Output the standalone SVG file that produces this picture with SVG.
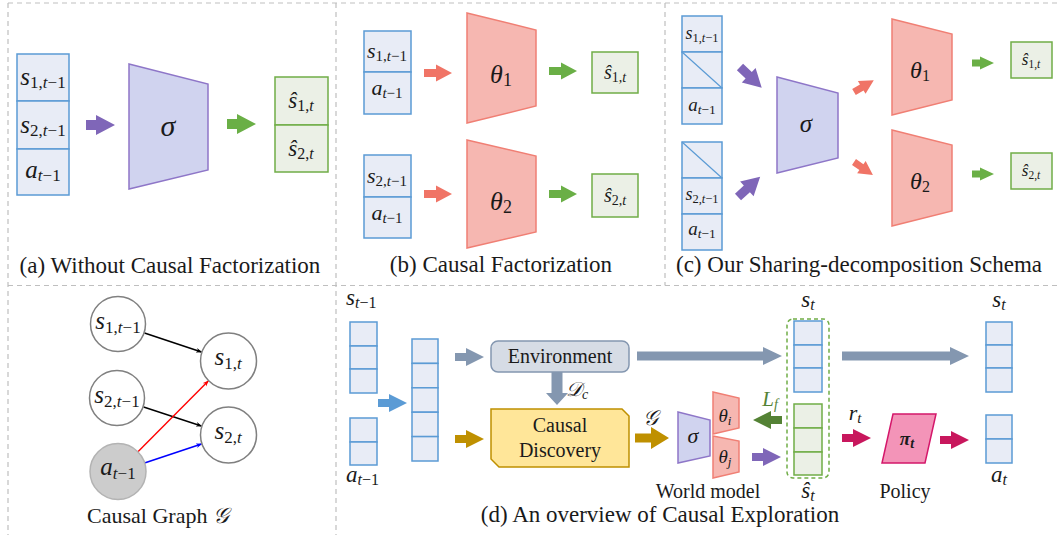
<svg xmlns="http://www.w3.org/2000/svg" xmlns:xlink="http://www.w3.org/1999/xlink" width="1057" height="535" viewBox="0 0 1057 535">
  <style>
    .frame { stroke: #BFBFBF; stroke-width: 1.2; stroke-dasharray: 5 4; fill: none; }
    .bx { fill: #E8ECF6; stroke: #5B9BD5; stroke-width: 1.5; }
    .gx { fill: #EBF0E6; stroke: #70AD47; stroke-width: 1.5; }
    .sig { fill: #D0D3EF; stroke: #8E76C8; stroke-width: 1.5; }
    .th { fill: #F6B7B1; stroke: #F07F74; stroke-width: 1.5; }
    .cap { font-family: "Liberation Serif", serif; font-size: 23px; fill: #1a1a1a; }
    .lbl { font-family: "Liberation Serif", serif; font-size: 20px; fill: #1a1a1a; }
    .m { font-family: "Liberation Serif", serif; font-style: italic; fill: #1a1a1a; }
    .n { font-style: normal; }
    .node { fill: #FFFFFF; stroke: #808080; stroke-width: 1.5; }
    .edge { stroke-width: 1.4; fill: none; }
  </style>
  <defs>
    <path id="ar-a" d="M0,-5H10V-10L29,0L10,10V5H0Z"/>
    <path id="ar-b" d="M0,-4H12V-8.5L28,0L12,8.5V4H0Z"/>
    <path id="ar-c" d="M0,-3.5H8V-6.5L22,0L8,6.5V3.5H0Z"/>
    <path id="ar-cp" d="M0,-4.5H12V-10L30,0L12,10V4.5H0Z"/>
    <path id="ar-cr" d="M0,-3.5H9V-7.5L23,0L9,7.5V3.5H0Z"/>
    <path id="ar-d" d="M0,-4H11V-9L29,0L11,9V4H0Z"/>
    <path id="ar-g" d="M0,-4.5H16V-11L34,0L16,11V4.5H0Z"/>
    <marker id="hk" viewBox="0 0 10 10" refX="9" refY="5" markerWidth="6" markerHeight="6" orient="auto" markerUnits="userSpaceOnUse">
      <path d="M0,1 L10,5 L0,9 L3,5Z" fill="#000000"/>
    </marker>
    <marker id="hr" viewBox="0 0 10 10" refX="9" refY="5" markerWidth="6" markerHeight="6" orient="auto" markerUnits="userSpaceOnUse">
      <path d="M0,1 L10,5 L0,9 L3,5Z" fill="#FF0000"/>
    </marker>
    <marker id="hb" viewBox="0 0 10 10" refX="9" refY="5" markerWidth="6" markerHeight="6" orient="auto" markerUnits="userSpaceOnUse">
      <path d="M0,1 L10,5 L0,9 L3,5Z" fill="#0000FF"/>
    </marker>
  </defs>

  <rect width="1057" height="535" fill="#FFFFFF"/>

  <!-- panel frames -->
  <g id="frames">
    <line class="frame" x1="8" y1="3" x2="1057" y2="3"/>
    <line class="frame" x1="8" y1="285.5" x2="1057" y2="285.5"/>
    <line class="frame" x1="8" y1="3" x2="8" y2="535"/>
    <line class="frame" x1="336" y1="3" x2="336" y2="535"/>
    <line class="frame" x1="665" y1="3" x2="665" y2="285.5"/>
  </g>

  <!-- (a) single network -->
  <g id="a-input">
    <rect class="bx" x="17" y="54" width="52" height="47"/>
    <rect class="bx" x="17" y="101" width="52" height="48"/>
    <rect class="bx" x="17" y="149" width="52" height="46"/>
    <text class="m" x="43" y="85" font-size="25" text-anchor="middle">s<tspan font-size="17" dy="3"><tspan class="n">1,</tspan>t<tspan class="n">−1</tspan></tspan></text>
    <text class="m" x="43" y="133" font-size="25" text-anchor="middle">s<tspan font-size="17" dy="3"><tspan class="n">2,</tspan>t<tspan class="n">−1</tspan></tspan></text>
    <text class="m" x="43" y="178" font-size="25" text-anchor="middle">a<tspan font-size="17" dy="3">t<tspan class="n">−1</tspan></tspan></text>
  </g>
  <g id="a-sigma">
    <polygon class="sig" points="129,64 208,84 208,170 129,189"/>
    <text class="m" x="168" y="136" font-size="30" text-anchor="middle">σ</text>
  </g>
  <g id="a-output">
    <rect class="gx" x="275" y="77" width="53" height="48"/>
    <rect class="gx" x="275" y="125" width="53" height="47"/>
    <text class="m" x="301" y="108" font-size="23" text-anchor="middle">ŝ<tspan font-size="16" dy="3"><tspan class="n">1,</tspan>t</tspan></text>
    <text class="m" x="301" y="156" font-size="23" text-anchor="middle">ŝ<tspan font-size="16" dy="3"><tspan class="n">2,</tspan>t</tspan></text>
  </g>
  <g id="a-arrows">
    <use xlink:href="#ar-a" href="#ar-a" fill="#7F66B8" transform="translate(86,125)"/>
    <use xlink:href="#ar-a" href="#ar-a" fill="#6AAF46" transform="translate(227,124)"/>
  </g>
  <text class="cap" x="170" y="273" text-anchor="middle">(a) Without Causal Factorization</text>

  <!-- (b) factorised networks -->
  <g id="b-input1">
    <rect class="bx" x="364" y="31" width="47" height="41"/>
    <rect class="bx" x="364" y="72" width="47" height="42"/>
    <text class="m" x="387" y="58" font-size="22" text-anchor="middle">s<tspan font-size="15" dy="3"><tspan class="n">1,</tspan>t<tspan class="n">−1</tspan></tspan></text>
    <text class="m" x="387" y="95" font-size="22" text-anchor="middle">a<tspan font-size="15" dy="3">t<tspan class="n">−1</tspan></tspan></text>
  </g>
  <g id="b-theta1">
    <polygon class="th" points="467,13 536,30 536,106 467,123"/>
    <text class="m" x="501" y="83" font-size="26" text-anchor="middle">θ<tspan class="n" font-size="18" dy="3">1</tspan></text>
  </g>
  <g id="b-out1">
    <rect class="gx" x="592" y="52" width="46" height="41"/>
    <text class="m" x="615" y="79" font-size="20" text-anchor="middle">ŝ<tspan font-size="14" dy="3"><tspan class="n">1,</tspan>t</tspan></text>
  </g>
  <g id="b-input2">
    <rect class="bx" x="364" y="155" width="47" height="42"/>
    <rect class="bx" x="364" y="197" width="47" height="41"/>
    <text class="m" x="387" y="183" font-size="22" text-anchor="middle">s<tspan font-size="15" dy="3"><tspan class="n">2,</tspan>t<tspan class="n">−1</tspan></tspan></text>
    <text class="m" x="387" y="220" font-size="22" text-anchor="middle">a<tspan font-size="15" dy="3">t<tspan class="n">−1</tspan></tspan></text>
  </g>
  <g id="b-theta2">
    <polygon class="th" points="467,140 536,156 536,232 467,248"/>
    <text class="m" x="501" y="210" font-size="26" text-anchor="middle">θ<tspan class="n" font-size="18" dy="3">2</tspan></text>
  </g>
  <g id="b-out2">
    <rect class="gx" x="592" y="174" width="46" height="43"/>
    <text class="m" x="615" y="202" font-size="20" text-anchor="middle">ŝ<tspan font-size="14" dy="3"><tspan class="n">2,</tspan>t</tspan></text>
  </g>
  <g id="b-arrows">
    <use xlink:href="#ar-b" href="#ar-b" fill="#F07466" transform="translate(424,73)"/>
    <use xlink:href="#ar-b" href="#ar-b" fill="#6AAF46" transform="translate(549,71)"/>
    <use xlink:href="#ar-b" href="#ar-b" fill="#F07466" transform="translate(424,194)"/>
    <use xlink:href="#ar-b" href="#ar-b" fill="#6AAF46" transform="translate(549,194)"/>
  </g>
  <text class="cap" x="501" y="272" text-anchor="middle">(b) Causal Factorization</text>

  <!-- (c) shared encoder with decomposed heads -->
  <g id="c-input1">
    <rect class="bx" x="682" y="16" width="40" height="36"/>
    <rect class="bx" x="682" y="52" width="40" height="36"/>
    <rect class="bx" x="682" y="88" width="40" height="36"/>
    <line x1="682" y1="52" x2="722" y2="88" stroke="#5B9BD5" stroke-width="1.2"/>
    <text class="m" x="702" y="39" font-size="18" text-anchor="middle">s<tspan font-size="12.5" dy="2.5"><tspan class="n">1,</tspan>t<tspan class="n">−1</tspan></tspan></text>
    <text class="m" x="702" y="111" font-size="19" text-anchor="middle">a<tspan font-size="13.5" dy="2.5">t<tspan class="n">−1</tspan></tspan></text>
  </g>
  <g id="c-input2">
    <rect class="bx" x="682" y="142" width="40" height="36"/>
    <rect class="bx" x="682" y="178" width="40" height="36"/>
    <rect class="bx" x="682" y="214" width="40" height="36"/>
    <line x1="682" y1="142" x2="722" y2="178" stroke="#5B9BD5" stroke-width="1.2"/>
    <text class="m" x="702" y="200" font-size="18" text-anchor="middle">s<tspan font-size="12.5" dy="2.5"><tspan class="n">2,</tspan>t<tspan class="n">−1</tspan></tspan></text>
    <text class="m" x="702" y="235" font-size="19" text-anchor="middle">a<tspan font-size="13.5" dy="2.5">t<tspan class="n">−1</tspan></tspan></text>
  </g>
  <g id="c-sigma">
    <polygon class="sig" points="777,77 838,93 838,158 777,173"/>
    <text class="m" x="806" y="132" font-size="25" text-anchor="middle">σ</text>
  </g>
  <g id="c-theta1">
    <polygon class="th" points="892,19 952,34 952,100 892,115"/>
    <text class="m" x="920" y="78" font-size="24" text-anchor="middle">θ<tspan class="n" font-size="16" dy="3">1</tspan></text>
  </g>
  <g id="c-theta2">
    <polygon class="th" points="892,130 952,145 952,211 892,226"/>
    <text class="m" x="920" y="189" font-size="24" text-anchor="middle">θ<tspan class="n" font-size="16" dy="3">2</tspan></text>
  </g>
  <g id="c-out1">
    <rect class="gx" x="1011" y="42" width="41" height="36"/>
    <text class="m" x="1031" y="65" font-size="17" text-anchor="middle">ŝ<tspan font-size="11.5" dy="2.5"><tspan class="n">1,</tspan>t</tspan></text>
  </g>
  <g id="c-out2">
    <rect class="gx" x="1011" y="153" width="41" height="36"/>
    <text class="m" x="1031" y="176" font-size="17" text-anchor="middle">ŝ<tspan font-size="11.5" dy="2.5"><tspan class="n">2,</tspan>t</tspan></text>
  </g>
  <g id="c-arrows">
    <use xlink:href="#ar-cp" href="#ar-cp" fill="#7F66B8" transform="translate(740,67) rotate(43.6)"/>
    <use xlink:href="#ar-cp" href="#ar-cp" fill="#7F66B8" transform="translate(738,197) rotate(-42.4)"/>
    <use xlink:href="#ar-cr" href="#ar-cr" fill="#F07466" transform="translate(854,92) rotate(-30.7)"/>
    <use xlink:href="#ar-cr" href="#ar-cr" fill="#F07466" transform="translate(854,162) rotate(34.7)"/>
    <use xlink:href="#ar-c" href="#ar-c" fill="#6AAF46" transform="translate(972,63)"/>
    <use xlink:href="#ar-c" href="#ar-c" fill="#6AAF46" transform="translate(972,174)"/>
  </g>
  <text class="cap" x="859" y="272" text-anchor="middle">(c) Our Sharing-decomposition Schema</text>

  <!-- causal graph -->
  <g id="g-edges">
    <line class="edge" stroke="#000000" x1="144.5" y1="333" x2="201.5" y2="352" marker-end="url(#hk)"/>
    <line class="edge" stroke="#000000" x1="143.6" y1="407" x2="201.4" y2="426" marker-end="url(#hk)"/>
    <line class="edge" stroke="#FF0000" x1="137.7" y1="452" x2="208.3" y2="381" marker-end="url(#hr)"/>
    <line class="edge" stroke="#0000FF" x1="144.5" y1="463" x2="201.5" y2="444" marker-end="url(#hb)"/>
  </g>
  <g id="g-s1prev">
    <circle class="node" cx="118" cy="324" r="27.5"/>
    <text class="m" x="118" y="329" font-size="25" text-anchor="middle">s<tspan font-size="17" dy="4"><tspan class="n">1,</tspan>t<tspan class="n">−1</tspan></tspan></text>
  </g>
  <g id="g-s2prev">
    <circle class="node" cx="117" cy="398" r="27.5"/>
    <text class="m" x="117" y="403" font-size="25" text-anchor="middle">s<tspan font-size="17" dy="4"><tspan class="n">2,</tspan>t<tspan class="n">−1</tspan></tspan></text>
  </g>
  <g id="g-aprev">
    <circle cx="118" cy="471.5" r="28" fill="#CCCCCC" stroke="#B3B3B3" stroke-width="1.5"/>
    <text class="m" x="118" y="475" font-size="25" text-anchor="middle">a<tspan font-size="17" dy="4">t<tspan class="n">−1</tspan></tspan></text>
  </g>
  <g id="g-s1">
    <circle class="node" cx="228.5" cy="361" r="28"/>
    <text class="m" x="228" y="365" font-size="25" text-anchor="middle">s<tspan font-size="17" dy="4"><tspan class="n">1,</tspan>t</tspan></text>
  </g>
  <g id="g-s2">
    <circle class="node" cx="228.5" cy="435" r="28"/>
    <text class="m" x="228" y="439" font-size="25" text-anchor="middle">s<tspan font-size="17" dy="4"><tspan class="n">2,</tspan>t</tspan></text>
  </g>
  <text class="cap" x="158" y="523" text-anchor="middle" style="font-size:22px">Causal Graph <tspan font-style="italic">𝒢</tspan></text>

  <!-- (d) overview -->
  <g id="d-sprev">
    <rect class="bx" x="350" y="322" width="27" height="24"/>
    <rect class="bx" x="350" y="346" width="27" height="23"/>
    <rect class="bx" x="350" y="369" width="27" height="24"/>
    <text class="m" x="346" y="305" font-size="23">s<tspan font-size="16" dy="3">t<tspan class="n">−1</tspan></tspan></text>
  </g>
  <g id="d-aprev">
    <rect class="bx" x="350" y="418" width="27" height="24"/>
    <rect class="bx" x="350" y="442" width="27" height="23"/>
    <text class="m" x="346" y="482" font-size="23">a<tspan font-size="16" dy="3">t<tspan class="n">−1</tspan></tspan></text>
  </g>
  <g id="d-concat">
    <rect class="bx" x="412" y="339" width="26" height="24.4"/>
    <rect class="bx" x="412" y="363.4" width="26" height="24.4"/>
    <rect class="bx" x="412" y="387.8" width="26" height="24.4"/>
    <rect class="bx" x="412" y="412.2" width="26" height="24.4"/>
    <rect class="bx" x="412" y="436.6" width="26" height="24.4"/>
  </g>
  <g id="d-env">
    <rect x="491" y="341" width="138" height="31" rx="7" fill="#D6DCE5" stroke="#8497B0" stroke-width="1.5"/>
    <text class="lbl" x="560" y="363" text-anchor="middle">Environment</text>
  </g>
  <g id="d-discovery">
    <polygon points="491,409 622,409 629,416 629,467 499,467 491,459" fill="#FFE699" stroke="#BF9000" stroke-width="1.5"/>
    <text class="lbl" x="560" y="432" text-anchor="middle">Causal</text>
    <text class="lbl" x="560" y="457" text-anchor="middle">Discovery</text>
  </g>
  <g id="d-world">
    <polygon class="sig" points="678,412 710,420 710,456 678,463"/>
    <text class="m" x="693" y="443" font-size="22" text-anchor="middle">σ</text>
    <polygon class="th" points="713,392 739,398 739,428 713,434"/>
    <text class="m" x="725" y="422" font-size="19" text-anchor="middle">θ<tspan font-size="13" dy="3">i</tspan></text>
    <polygon class="th" points="713,436 739,441 739,472 713,478"/>
    <text class="m" x="725" y="463" font-size="19" text-anchor="middle">θ<tspan font-size="13" dy="3">j</tspan></text>
    <text class="lbl" x="708" y="498" text-anchor="middle">World model</text>
  </g>
  <g id="d-state">
    <rect x="787" y="319" width="42" height="159" rx="6" fill="none" stroke="#70AD47" stroke-width="1.5" stroke-dasharray="4 3"/>
    <rect class="bx" x="794" y="321" width="28" height="24"/>
    <rect class="bx" x="794" y="345" width="28" height="23"/>
    <rect class="bx" x="794" y="368" width="28" height="24"/>
    <rect class="gx" x="794" y="404" width="28" height="24"/>
    <rect class="gx" x="794" y="428" width="28" height="24"/>
    <rect class="gx" x="794" y="452" width="28" height="23"/>
    <text class="m" x="808" y="307" font-size="23" text-anchor="middle">s<tspan font-size="16" dy="3">t</tspan></text>
    <text class="m" x="808" y="498" font-size="23" text-anchor="middle">ŝ<tspan font-size="16" dy="3">t</tspan></text>
  </g>
  <g id="d-policy">
    <polygon points="893,414 936,414 925,463 882,463" fill="#F394B8" stroke="#D4176A" stroke-width="1.5"/>
    <text class="m" x="907" y="445" font-size="19" font-weight="bold" text-anchor="middle">π<tspan font-size="14" dy="3">t</tspan></text>
    <text class="lbl" x="905" y="498" text-anchor="middle">Policy</text>
  </g>
  <g id="d-next">
    <rect class="bx" x="986" y="322" width="26" height="23"/>
    <rect class="bx" x="986" y="345" width="26" height="23"/>
    <rect class="bx" x="986" y="368" width="26" height="24"/>
    <rect class="bx" x="986" y="415" width="26" height="24"/>
    <rect class="bx" x="986" y="439" width="26" height="24"/>
    <text class="m" x="999" y="307" font-size="23" text-anchor="middle">s<tspan font-size="16" dy="3">t</tspan></text>
    <text class="m" x="999" y="482" font-size="23" text-anchor="middle">a<tspan font-size="16" dy="3">t</tspan></text>
  </g>

  <g id="d-connectors">
    <use xlink:href="#ar-d" href="#ar-d" fill="#5B9BD5" transform="translate(378,403)"/>
    <use xlink:href="#ar-d" href="#ar-d" fill="#8497B0" transform="translate(455,357)"/>
    <use xlink:href="#ar-d" href="#ar-d" fill="#BF9000" transform="translate(455,439)"/>
    <path d="M551.5,372 V393 H546 L557,405 L568,393 H562.5 V372 Z" fill="#8497B0"/>
    <path d="M637,351.5 H763 V347 L782,356 L763,365 V360.5 H637 Z" fill="#8497B0"/>
    <path d="M842,351.5 H950 V347 L969,356 L950,365 V360.5 H842 Z" fill="#8497B0"/>
    <use xlink:href="#ar-g" href="#ar-g" fill="#BF9000" transform="translate(635,438)"/>
    <use xlink:href="#ar-d" href="#ar-d" fill="#548235" transform="translate(782,420) rotate(180)"/>
    <use xlink:href="#ar-d" href="#ar-d" fill="#7F66B8" transform="translate(752,457)"/>
    <use xlink:href="#ar-d" href="#ar-d" fill="#C8175D" transform="translate(842,438)"/>
    <use xlink:href="#ar-d" href="#ar-d" fill="#C8175D" transform="translate(940,440)"/>
  </g>
  <g id="d-labels">
    <text class="m" x="566" y="396" font-size="20">𝒟<tspan font-size="14" dy="3">c</tspan></text>
    <text class="m" x="650" y="425" font-size="21" text-anchor="middle">𝒢</text>
    <text class="m" x="770" y="406" font-size="21" text-anchor="middle" style="fill:#548235">L<tspan font-size="14" dy="3">f</tspan></text>
    <text class="m" x="855" y="420" font-size="22" text-anchor="middle">r<tspan font-size="15" dy="3">t</tspan></text>
  </g>
  <text class="cap" x="660" y="522" text-anchor="middle">(d) An overview of Causal Exploration</text>
</svg>
